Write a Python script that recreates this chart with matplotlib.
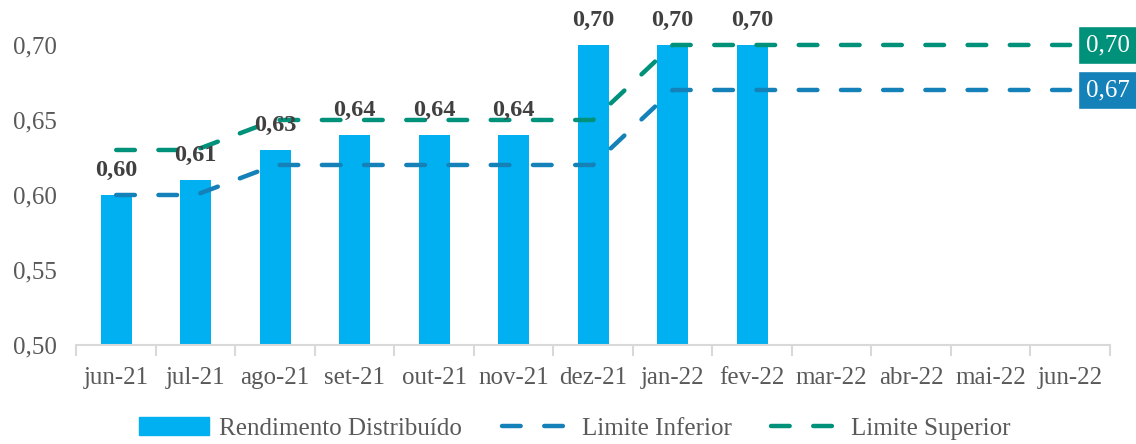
import numpy as np
import matplotlib
matplotlib.use('Agg')
import matplotlib.pyplot as plt
from matplotlib.lines import Line2D
from matplotlib.patches import Patch

# Data
months = ['jun-21', 'jul-21', 'ago-21', 'set-21', 'out-21', 'nov-21', 'dez-21',
          'jan-22', 'fev-22', 'mar-22', 'abr-22', 'mai-22', 'jun-22']
rendimento = [0.60, 0.61, 0.63, 0.64, 0.64, 0.64, 0.70, 0.70, 0.70]
lim_inf = [0.60, 0.60, 0.62, 0.62, 0.62, 0.62, 0.62,
           0.67, 0.67, 0.67, 0.67, 0.67, 0.67]
lim_sup = [0.63, 0.63, 0.65, 0.65, 0.65, 0.65, 0.65,
           0.70, 0.70, 0.70, 0.70, 0.70, 0.70]
yticks = [0.50, 0.55, 0.60, 0.65, 0.70]

c_bar = '#00B0F0'
c_inf = '#1581B9'
c_sup = '#00917A'
c_txt = '#595959'

plt.rcParams['font.family'] = ['Liberation Serif', 'DejaVu Serif']

fig = plt.figure(figsize=(11.36, 4.44), dpi=100)
ax = fig.add_axes([0.0673, 0.223, 0.9097, 0.6757])

x = np.arange(len(months))
xb = x[:len(rendimento)]
ax.bar(xb, rendimento, width=0.39, color=c_bar, zorder=2)

dash = (4.2, 5.3)
ax.plot(x, lim_inf, color=c_inf, lw=3.2, dashes=dash, dash_capstyle='round',
        zorder=3, clip_on=False)
ax.plot(x, lim_sup, color=c_sup, lw=3.2, dashes=dash, dash_capstyle='round',
        zorder=3, clip_on=False)

# bar value labels
for xi, v in zip(xb, rendimento):
  ax.annotate(('%.2f' % v).replace('.', ','), (xi, v), xytext=(0, 10),
              textcoords='offset points', ha='center', va='bottom',
              fontsize=17.5, fontweight='bold', color='#404040', zorder=4)

# end-of-line value boxes
for vals, col in [(lim_sup, c_sup), (lim_inf, c_inf)]:
  ax.annotate(('%.2f' % vals[-1]).replace('.', ','), (x[-1], vals[-1]),
              xytext=(11.5, 0), textcoords='offset points', ha='left',
              va='center', fontsize=18, color='white', annotation_clip=False,
              bbox=dict(boxstyle='square,pad=0.32', fc=col, ec='white', lw=1))

ax.set_xlim(-0.5, len(months) - 0.5)
ax.set_ylim(0.50, 0.70)
ax.set_yticks(yticks)
ax.set_yticklabels([('%.2f' % t).replace('.', ',') for t in yticks])
ax.set_xticks(x)
ax.set_xticklabels(months)
ax.set_xticks(np.arange(-0.5, len(months)), minor=True)

for s in ['top', 'right', 'left']:
  ax.spines[s].set_visible(False)
ax.spines['bottom'].set_color('#D9D9D9')
ax.spines['bottom'].set_linewidth(1.5)
ax.tick_params(axis='y', length=0, pad=14, labelsize=18, labelcolor=c_txt)
ax.tick_params(axis='x', which='major', length=0, pad=16, labelsize=18,
               labelcolor=c_txt)
ax.tick_params(axis='x', which='minor', length=8, width=1.5, color='#D9D9D9')

handles = [Patch(color=c_bar),
           Line2D([], [], color=c_inf, lw=3.2, dashes=dash,
                  dash_capstyle='round'),
           Line2D([], [], color=c_sup, lw=3.2, dashes=dash,
                  dash_capstyle='round')]
labels = ['Rendimento Distribuído', 'Limite Inferior', 'Limite Superior']
leg = fig.legend(handles, labels, loc='center', bbox_to_anchor=(0.506, 0.035),
                 ncol=3, frameon=False, fontsize=18, handlelength=2.8,
                 handleheight=0.7, columnspacing=1.6, handletextpad=0.4)
for t in leg.get_texts():
  t.set_color(c_txt)

fig.savefig('out.png', dpi=100)
